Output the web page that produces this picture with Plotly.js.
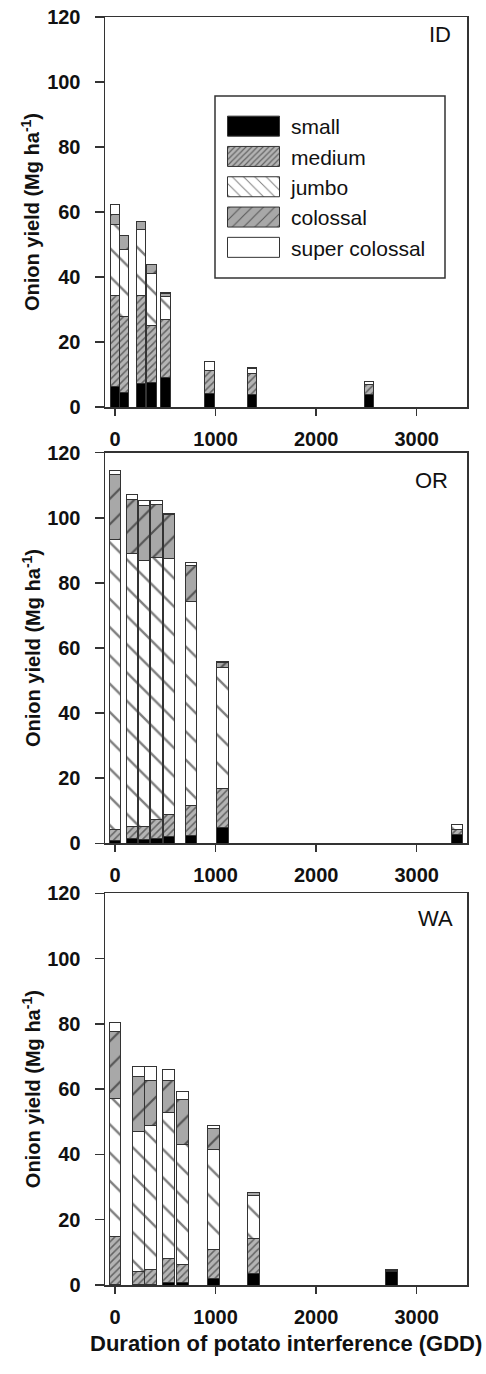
<!DOCTYPE html>
<html>
<head>
<meta charset="utf-8">
<script src="https://cdn.plot.ly/plotly-3.0.1.min.js"></script>
<style>html,body{margin:0;padding:0;background:#fff;}#chart{width:486px;height:1374px;}</style>
</head>
<body>
<div id="chart"></div>
<script>
// ---------- data ----------
const sizeClasses = ['small', 'medium', 'jumbo', 'colossal', 'super colossal'];
const panelNames = ['ID', 'OR', 'WA'];
const xTicks = [0, 1000, 2000, 3000];
const yTicks = [0, 20, 40, 60, 80, 100, 120];

// ID
const gddID      = [0, 90, 260, 362, 502, 940, 1365, 2525];
const idSmall    = [6.3, 4.4, 7.1, 7.5, 9.1, 4.2, 3.7, 4.0];
const idMedium   = [28.1, 23.4, 27.1, 17.7, 17.9, 7.0, 6.7, 2.8];
const idJumbo    = [21.8, 20.7, 20.5, 15.9, 7.0, 2.7, 1.4, 1.0];
const idColossal = [3.0, 4.3, 2.4, 2.6, 0.9, 0, 0.4, 0];
const idSuper    = [3.0, 0, 0, 0, 0.4, 0, 0, 0];

// OR
const gddOR      = [0, 170, 287, 412, 537, 757, 1067, 3400];
const orSmall    = [1.0, 1.4, 1.2, 1.5, 2.0, 2.3, 4.8, 2.8];
const orMedium   = [3.3, 3.9, 3.9, 5.9, 7.0, 9.2, 12.1, 1.3];
const orJumbo    = [88.9, 83.8, 81.9, 80.5, 78.6, 62.7, 37.0, 1.7];
const orColossal = [20.2, 16.6, 16.9, 16.3, 13.3, 11.0, 1.6, 0];
const orSuper    = [1.1, 1.5, 1.5, 1.2, 0.5, 1.1, 0.5, 0];

// WA
const gddWA      = [0, 235, 352, 533, 668, 982, 1375, 2750];
const waSmall    = [0.3, 0.2, 0.2, 0.7, 0.7, 2.0, 3.6, 4.1];
const waMedium   = [14.7, 3.9, 4.6, 7.5, 5.7, 8.9, 10.5, 0.4];
const waJumbo    = [42.2, 42.9, 44.2, 44.6, 36.7, 30.7, 13.3, 0.4];
const waColossal = [20.4, 16.8, 13.6, 9.8, 13.6, 6.4, 1.0, 0];
const waSuper    = [2.8, 3.1, 4.3, 3.3, 2.5, 1.0, 0, 0];

// ---------- styles ----------
const FONT = 'Liberation Sans, Arial, Helvetica, sans-serif';
const styles = {
  'small':          {color: '#000000'},
  'medium':         {color: '#b4b4b4', pattern: {shape: '/', size: 5, solidity: 0.3, fgcolor: '#111', bgcolor: '#b4b4b4', fillmode: 'overlay'}},
  'jumbo':          {color: '#ffffff', pattern: {shape: '\\', size: 20, solidity: 0.12, fgcolor: '#000', bgcolor: '#ffffff', fillmode: 'overlay'}},
  'colossal':       {color: '#a8a8a8', pattern: {shape: '/', size: 18, solidity: 0.12, fgcolor: '#000', bgcolor: '#a8a8a8', fillmode: 'overlay'}},
  'super colossal': {color: '#ffffff'}
};

const panels = [
  {x: gddID, vals: [idSmall, idMedium, idJumbo, idColossal, idSuper], width: 93, xa: 'x',  ya: 'y'},
  {x: gddOR, vals: [orSmall, orMedium, orJumbo, orColossal, orSuper], width: 113, xa: 'x2', ya: 'y2'},
  {x: gddWA, vals: [waSmall, waMedium, waJumbo, waColossal, waSuper], width: 117, xa: 'x3', ya: 'y3'}
];

const traces = [];
panels.forEach((p, pi) => {
  sizeClasses.forEach((name, ci) => {
    const st = styles[name];
    const marker = {color: st.color, line: {color: '#333', width: 1}};
    if (st.pattern) marker.pattern = st.pattern;
    traces.push({
      type: 'bar', name: name, x: p.x, y: p.vals[ci],
      width: p.x.map(() => p.width),
      xaxis: p.xa, yaxis: p.ya, marker: marker,
      legendgroup: name, showlegend: pi === 0, hoverinfo: 'skip'
    });
  });
});

// ---------- layout ----------
const W = 486, H = 1374, ML = 105, MR = 19, MT = 17, MB = 89;
const PW = W - ML - MR, PH = H - MT - MB;
const px2x = v => (v - ML) / PW;
const px2y = v => (H - MB - v) / PH;

const domains = [[px2y(407), 1], [px2y(843.3), px2y(452.7)], [0, px2y(893.3)]];

function xAxis(anchor) {
  return {
    domain: [0, 1], anchor: anchor, range: [-100, 3500],
    tickvals: xTicks, ticktext: xTicks.map(String),
    ticks: 'outside', ticklen: 7, tickwidth: 1.5, tickcolor: '#333',
    showline: true, linecolor: '#333', linewidth: 1.5, mirror: true,
    showgrid: false, zeroline: false, ticklabelstandoff: 6,
    tickfont: {family: FONT, size: 20, color: '#111', weight: 'bold'}
  };
}
function yAxis(anchor, dom) {
  return {
    domain: dom, anchor: anchor, range: [0, 120],
    tickvals: yTicks, ticktext: yTicks.map(String),
    ticks: 'outside', ticklen: 9, tickwidth: 1.5, tickcolor: '#333',
    showline: true, linecolor: '#333', linewidth: 1.5, mirror: true,
    showgrid: false, zeroline: false, ticklabelstandoff: 10,
    tickfont: {family: FONT, size: 20, color: '#111', weight: 'bold'}
  };
}

const yTitle = 'Onion yield (Mg ha<sup>-1</sup>)';
const annotations = [];
domains.forEach((d) => {
  annotations.push({
    text: yTitle, xref: 'paper', yref: 'paper', x: px2x(31), y: (d[0] + d[1]) / 2,
    xanchor: 'center', yanchor: 'middle', textangle: -90, showarrow: false,
    font: {family: FONT, size: 20, color: '#111', weight: 'bold'}
  });
});
const labelPos = [[453.3, 34.2], [450, 481], [455, 918]];
panelNames.forEach((n, i) => {
  annotations.push({
    text: n, xref: 'paper', yref: 'paper', x: px2x(labelPos[i][0]), y: px2y(labelPos[i][1]),
    xanchor: 'right', yanchor: 'middle', showarrow: false,
    font: {family: FONT, size: 22, color: '#111'}
  });
});
annotations.push({
  text: 'Duration of potato interference (GDD)', xref: 'paper', yref: 'paper',
  x: px2x(286), y: px2y(1343), xanchor: 'center', yanchor: 'middle', showarrow: false,
  font: {family: FONT, size: 22, color: '#111', weight: 'bold'}
});

const layout = {
  width: W, height: H,
  margin: {l: ML, r: MR, t: MT, b: MB, pad: 0},
  paper_bgcolor: '#fff', plot_bgcolor: '#fff',
  barmode: 'stack', bargap: 0,
  font: {family: FONT, color: '#111'},
  xaxis: xAxis('y'), yaxis: yAxis('x', domains[0]),
  xaxis2: xAxis('y2'), yaxis2: yAxis('x2', domains[1]),
  xaxis3: xAxis('y3'), yaxis3: yAxis('x3', domains[2]),
  showlegend: true,
  legend: {
    x: px2x(216), y: px2y(106), xanchor: 'left', yanchor: 'top',
    traceorder: 'normal', bgcolor: 'rgba(0,0,0,0)', borderwidth: 0,
    itemwidth: 65, itemclick: false, itemdoubleclick: false,
    font: {family: FONT, size: 21, color: '#111'}
  },
  shapes: [{
    type: 'rect', xref: 'paper', yref: 'paper',
    x0: px2x(215), x1: px2x(445), y0: px2y(278), y1: px2y(96),
    line: {color: '#333', width: 1.5}, fillcolor: '#fff', layer: 'above'
  }],
  annotations: annotations
};

Plotly.newPlot('chart', traces, layout, {displayModeBar: false, staticPlot: true}).then(() => {
  document.querySelectorAll('.legend .legendpoints path').forEach(p => {
    p.setAttribute('d', 'M26,10H-26V-10H26Z');
  });
});
</script>
</body>
</html>
